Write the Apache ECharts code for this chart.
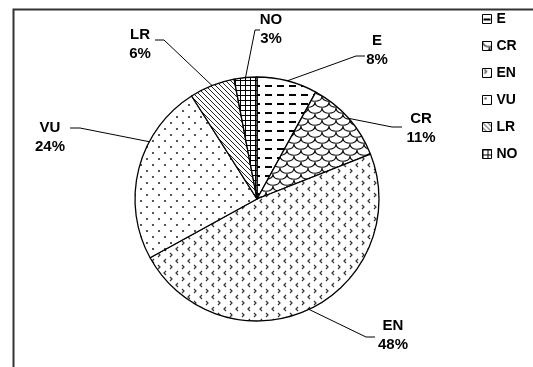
<!DOCTYPE html>
<html>
<head>
<meta charset="utf-8">
<script src="https://cdn.jsdelivr.net/npm/echarts@6/dist/echarts.min.js"></script>
<style>
  html, body { margin: 0; padding: 0; background: #fff; }
  #chart { width: 533px; height: 367px; }
</style>
</head>
<body>
<div id="chart"></div>
<script>
// Share of species per threat category (percent)
var categories = ['E', 'CR', 'EN', 'VU', 'LR', 'NO'];
var shares = [8, 11, 48, 24, 6, 3];

var PIE_CENTER = [257, 199];
var PIE_RADIUS = 122;

// Where each callout sits: text centre, leader elbow and leader end
var labelSpots = {
  E:  { tx: 377, ty: 50,  elbow: [356, 56],  end: [365, 56] },
  CR: { tx: 421, ty: 128, elbow: [392, 127], end: [402, 127] },
  EN: { tx: 393, ty: 335, elbow: [366, 337], end: [375, 337] },
  VU: { tx: 50,  ty: 137, elbow: [80, 128],  end: [70, 128], anchorDeg: 298 },
  LR: { tx: 140, ty: 44,  elbow: [164, 40],  end: [155, 40] },
  NO: { tx: 271, ty: 29,  elbow: [255, 30],  end: [260, 30] }
};

// Small monochrome fill tiles, one per category
function tile(w, h, draw) {
  var c = document.createElement('canvas');
  c.width = w; c.height = h;
  var g = c.getContext('2d');
  g.fillStyle = '#fff';
  g.fillRect(0, 0, w, h);
  draw(g);
  return { image: c, repeat: 'repeat' };
}

var fills = {
  // horizontal dashes
  E: tile(12, 9, function (g) {
    g.fillStyle = '#000';
    g.fillRect(1, 4, 7, 2);
  }),
  // overlapping scales
  CR: tile(14, 12, function (g) {
    g.strokeStyle = '#111';
    g.lineWidth = 1.2;
    g.beginPath();
    g.moveTo(0, 0); g.bezierCurveTo(0, 7, 14, 7, 14, 0);
    g.moveTo(-7, 6); g.bezierCurveTo(-7, 13, 7, 13, 7, 6);
    g.moveTo(7, 6); g.bezierCurveTo(7, 13, 21, 13, 21, 6);
    g.stroke();
  }),
  // small chevrons
  EN: tile(12, 12, function (g) {
    g.strokeStyle = '#333';
    g.lineWidth = 1.2;
    g.beginPath();
    g.moveTo(2, 1); g.lineTo(4, 3); g.lineTo(2, 5);
    g.moveTo(10, 7); g.lineTo(8, 9); g.lineTo(10, 11);
    g.stroke();
  }),
  // sparse dots
  VU: tile(12, 12, function (g) {
    g.fillStyle = '#555';
    g.fillRect(2, 2, 2, 2);
    g.fillRect(8, 8, 2, 2);
  }),
  // diagonal hatching
  LR: tile(5, 5, function (g) {
    g.strokeStyle = '#222';
    g.lineWidth = 1;
    g.beginPath();
    g.moveTo(-1, -1); g.lineTo(6, 6);
    g.moveTo(-1, 4); g.lineTo(1, 6);
    g.moveTo(4, -1); g.lineTo(6, 1);
    g.stroke();
  }),
  // fine grid
  NO: tile(5, 5, function (g) {
    g.fillStyle = '#000';
    g.fillRect(0, 0, 5, 1);
    g.fillRect(0, 0, 1, 5);
  })
};

var pieData = categories.map(function (name, i) {
  return { name: name, value: shares[i], itemStyle: { color: fills[name] } };
});

function placeLabel(params) {
  var name = categories[params.dataIndex];
  var spot = labelSpots[name];
  var pts = params.labelLinePoints;
  var start = pts ? pts[0] : spot.elbow;
  if (spot.anchorDeg != null) {
    var a = spot.anchorDeg * Math.PI / 180;
    start = [PIE_CENTER[0] + PIE_RADIUS * Math.sin(a), PIE_CENTER[1] - PIE_RADIUS * Math.cos(a)];
  }
  return {
    x: spot.tx,
    y: spot.ty,
    align: 'center',
    verticalAlign: 'middle',
    labelLinePoints: [start, spot.elbow, spot.end]
  };
}

var chart = echarts.init(document.getElementById('chart'), null, { renderer: 'canvas' });
chart.setOption({
  animation: false,
  backgroundColor: '#fff',
  textStyle: { fontFamily: 'Liberation Sans, Arial, sans-serif' },
  graphic: [{
    type: 'rect',
    left: 11, top: 7,
    shape: { width: 560, height: 359 },
    style: { fill: 'none', stroke: '#333', lineWidth: 2 },
    z: -1
  }],
  legend: {
    orient: 'vertical',
    left: 477, top: 7,
    itemWidth: 9, itemHeight: 9,
    itemGap: 13,
    icon: 'rect',
    itemStyle: { borderColor: '#000', borderWidth: 1 },
    textStyle: { color: '#000', fontWeight: 'bold', fontSize: 14 },
    data: categories
  },
  series: [{
    type: 'pie',
    center: PIE_CENTER,
    radius: PIE_RADIUS,
    startAngle: 90,
    clockwise: true,
    data: pieData,
    itemStyle: { borderColor: '#000', borderWidth: 1.3 },
    label: {
      formatter: '{b}\n{c}%',
      color: '#000',
      fontWeight: 'bold',
      fontSize: 15,
      lineHeight: 19,
      align: 'center'
    },
    labelLine: {
      length: 30,
      length2: 10,
      lineStyle: { color: '#000', width: 1 }
    },
    labelLayout: placeLabel
  }]
});
</script>
</body>
</html>
